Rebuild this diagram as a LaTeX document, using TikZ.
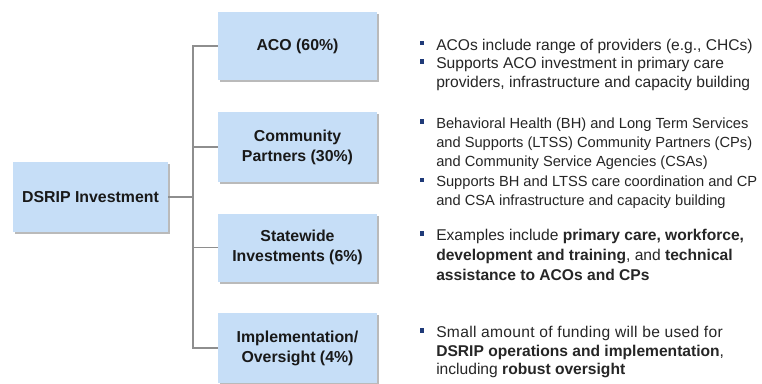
\documentclass[tikz,border=0pt]{standalone}
\usepackage{fontspec}
\setmainfont{Liberation Sans}
\usetikzlibrary{shadows}
\definecolor{boxfill}{HTML}{C6DEF7}
\definecolor{conncol}{HTML}{8E8E8E}
\definecolor{bulcol}{HTML}{1F3A78}
\definecolor{txtcol}{HTML}{262626}
\tikzset{
  catbox/.style={rectangle, fill=boxfill, draw=none, inner sep=0pt,
    minimum width=119.25pt, minimum height=51pt, align=center,
    text=black!90, font=\fontsize{11.9}{15}\selectfont\bfseries,
    drop shadow={shadow xshift=1.8pt, shadow yshift=-1.8pt, fill=black!45, opacity=0.6}},
  conn/.style={draw=conncol, line width=1.2pt},
  bul/.style={rectangle, fill=bulcol, inner sep=0pt, minimum width=3.4pt, minimum height=3.2pt},
  ln/.style={anchor=base west, inner sep=0pt, text=txtcol, font=\fontsize{11.7}{14}\selectfont},
  lns/.style={anchor=base west, inner sep=0pt, text=txtcol, font=\fontsize{11}{13}\selectfont},
}
\begin{document}
\begin{tikzpicture}[x=0.75pt, y=-0.75pt]
\useasboundingbox (0,0) rectangle (762,383);
\fill[white] (0,0) rectangle (762,383);
% boxes
\node[catbox, minimum width=116.25pt, minimum height=52.5pt] (dsrip) at (90.5,197) {DSRIP Investment};
\node[catbox] (aco) at (297.5,46) {ACO (60\%)};
\node[catbox, minimum height=52.5pt] (cp) at (297.5,147) {Community\\Partners (30\%)};
\node[catbox] (sw) at (297.5,247.5) {Statewide\\Investments (6\%)};
\node[catbox, minimum height=52.5pt] (impl) at (297.5,348) {Implementation/\\Oversight (4\%)};
% connectors
\coordinate (tr) at (193,0);
\draw[conn] (dsrip.east) -- (dsrip.east -| tr);
\draw[conn] (aco.west) -- (aco.west -| tr) -- (impl.west -| tr) -- (impl.west);
\draw[conn] (cp.west) -- (cp.west -| tr);
\draw[conn] (sw.west) -- (sw.west -| tr);
% ACO bullets
\node[bul] (b1) at (421.8,42.8) {};
\node[ln] (l1a) at (436,50) {ACOs include range of providers (e.g., CHCs)};
\node[bul] (b2) at (421.8,61.5) {};
\node[ln] (l2a) at (436,68.7) {Supports ACO investment in primary care};
\node[ln] (l2b) at (436,87.7) {providers, infrastructure and capacity building};
% CP bullets
\node[bul] (b3) at (421.8,121.5) {};
\node[lns] (l3a) at (436,128) {Behavioral Health (BH) and Long Term Services};
\node[lns] (l3b) at (436,147) {and Supports (LTSS) Community Partners (CPs)};
\node[lns] (l3c) at (436,166) {and Community Service Agencies (CSAs)};
\node[bul] (b4) at (421.8,180) {};
\node[lns] (l4a) at (436,186.5) {Supports BH and LTSS care coordination and CP};
\node[lns] (l4b) at (436,205) {and CSA infrastructure and capacity building};
% Statewide
\node[bul] (b5) at (421.8,233.5) {};
\node[ln] (l5a) at (436,240.5) {Examples include \textbf{primary care, workforce,}};
\node[ln] (l5b) at (436,260.5) {\textbf{development and training}, and \textbf{technical}};
\node[ln] (l5c) at (436,280.5) {\textbf{assistance to ACOs and CPs}};
% Implementation
\node[bul] (b6) at (421.8,330.5) {};
\node[ln] (l6a) at (436,337) {\addfontfeature{LetterSpace=2}Small amount of funding will be used for};
\node[ln] (l6b) at (436,356) {\textbf{DSRIP operations and implementation},};
\node[ln] (l6c) at (436,374.5) {including \textbf{robust oversight}};
\end{tikzpicture}
\end{document}
